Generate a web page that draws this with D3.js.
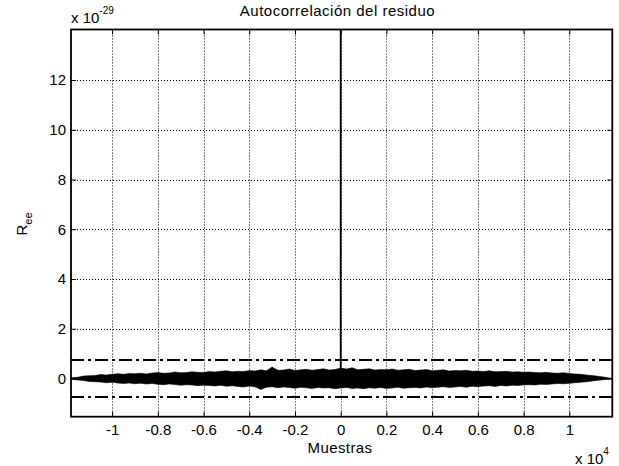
<!DOCTYPE html>
<html>
<head>
<meta charset="utf-8">
<script src="https://cdnjs.cloudflare.com/ajax/libs/d3/7.8.5/d3.min.js"></script>
<style>
  html, body { margin: 0; padding: 0; background: #fff; }
  text { font-family: "Liberation Sans", Arial, Helvetica, sans-serif; fill: #000; }
</style>
</head>
<body>
<svg id="chart" width="619" height="466"></svg>
<script>
// ---- data (units: 1e-29 for values, samples for lags) ----
const title = "Autocorrelación del residuo";
const xLabel = "Muestras";
const xTicks = [-10000, -8000, -6000, -4000, -2000, 0, 2000, 4000, 6000, 8000, 10000];
const xTickLabels = ["-1", "-0.8", "-0.6", "-0.4", "-0.2", "0", "0.2", "0.4", "0.6", "0.8", "1"];
const yTicks = [0, 2, 4, 6, 8, 10, 12];
const yTickLabels = ["0", "2", "4", "6", "8", "10", "12"];
const xDomain = [-11798, 11881];
const yDomain = [-1.535, 14.03];
const confBound = 0.745;            // dash-dot confidence lines at ±confBound
const peakLag = [-1, 0, 1];
const peakValue = [0.1, 14.2, 0.1];  // main autocorrelation peak (clipped at top)
// noise band envelope, read every 250 lags from -11750 to 11750
const bandLags = d3.range(-11750, 11751, 250);
const bandUpper = [
  0.03,0.05,0.10,0.11,0.12,0.16,0.14,0.17,0.19,0.17,
  0.20,0.19,0.21,0.18,0.22,0.24,0.21,0.22,0.26,0.23,
  0.24,0.27,0.25,0.24,0.28,0.26,0.29,0.31,0.27,0.29,
  0.28,0.32,0.30,0.35,0.31,0.46,0.33,0.34,0.38,0.32,
  0.35,0.37,0.33,0.36,0.39,0.34,0.36,0.42,0.38,0.43,
  0.35,0.37,0.39,0.34,0.36,0.35,0.38,0.33,0.35,0.37,
  0.32,0.34,0.36,0.31,0.33,0.35,0.30,0.32,0.31,0.33,
  0.29,0.30,0.28,0.31,0.27,0.28,0.29,0.26,0.27,0.25,
  0.26,0.24,0.23,0.25,0.22,0.21,0.23,0.20,0.18,0.17,
  0.14,0.12,0.09,0.06,0.02];
const bandLower = [
  -0.03,-0.06,-0.08,-0.12,-0.13,-0.14,-0.17,-0.15,-0.18,-0.20,
  -0.18,-0.21,-0.19,-0.22,-0.20,-0.23,-0.25,-0.22,-0.24,-0.27,
  -0.25,-0.26,-0.29,-0.27,-0.28,-0.30,-0.27,-0.31,-0.29,-0.32,
  -0.34,-0.30,-0.33,-0.44,-0.35,-0.33,-0.37,-0.34,-0.36,-0.39,
  -0.35,-0.37,-0.40,-0.36,-0.38,-0.37,-0.41,-0.38,-0.36,-0.40,
  -0.38,-0.41,-0.37,-0.39,-0.36,-0.40,-0.38,-0.35,-0.39,-0.37,
  -0.36,-0.38,-0.34,-0.37,-0.35,-0.33,-0.36,-0.34,-0.32,-0.35,
  -0.31,-0.33,-0.30,-0.29,-0.32,-0.28,-0.30,-0.27,-0.28,-0.26,
  -0.25,-0.26,-0.23,-0.24,-0.22,-0.20,-0.21,-0.19,-0.17,-0.15,
  -0.13,-0.10,-0.07,-0.05,-0.02];

// ---- layout ----
const L = 71, R = 612.3, T = 29.5, B = 416.7;
const FS = 15;
const svg = d3.select("#chart");
svg.append("rect").attr("width", 619).attr("height", 466).attr("fill", "#fff");

const x = d3.scaleLinear().domain(xDomain).range([L, R]);
const y = d3.scaleLinear().domain(yDomain).range([B, T]);

const defs = svg.append("defs");
defs.append("clipPath").attr("id", "clip")
  .append("rect").attr("x", L).attr("y", T).attr("width", R - L).attr("height", B - T);

// grid
const grid = svg.append("g");
xTicks.forEach(v => {
  const px = Math.round(x(v)) + 0.5;
  grid.append("line").attr("x1", px).attr("x2", px).attr("y1", T).attr("y2", B)
    .attr("stroke", "#000").attr("stroke-width", 1).attr("stroke-dasharray", "1,2");
});
yTicks.forEach(v => {
  const py = Math.round(y(v)) + 0.5;
  grid.append("line").attr("x1", L).attr("x2", R).attr("y1", py).attr("y2", py)
    .attr("stroke", "#000").attr("stroke-width", 1).attr("stroke-dasharray", "1,2");
});

const plot = svg.append("g").attr("clip-path", "url(#clip)");

// noise band
const bandData = [{lag: xDomain[0], u: 0.01, l: -0.01}]
  .concat(bandLags.map((g, i) => ({lag: g, u: bandUpper[i], l: bandLower[i]})))
  .concat([{lag: xDomain[1], u: 0.01, l: -0.01}]);
const area = d3.area().x(d => x(d.lag)).y0(d => y(d.l)).y1(d => y(d.u));
plot.append("path").datum(bandData).attr("d", area)
  .attr("fill", "#000").attr("stroke", "#000").attr("stroke-width", 0.6);

// peak
const peakData = peakLag.map((g, i) => ({lag: g, v: peakValue[i]}));
plot.append("path").datum(peakData)
  .attr("d", d3.line().x(d => x(d.lag)).y(d => y(d.v)))
  .attr("fill", "none").attr("stroke", "#000").attr("stroke-width", 1.8);

// confidence dash-dot lines
[confBound, -confBound].forEach(v => {
  plot.append("line").attr("x1", L).attr("x2", R).attr("y1", y(v)).attr("y2", y(v))
    .attr("stroke", "#000").attr("stroke-width", 2).attr("stroke-dasharray", "13,4,3,4");
});

// axes (MATLAB style, ticks inside)
const axB = d3.axisBottom(x).tickValues(xTicks).tickFormat((d, i) => xTickLabels[i]).tickSizeInner(-5).tickSizeOuter(0).tickPadding(7.5);
const axT = d3.axisTop(x).tickValues(xTicks).tickFormat("").tickSizeInner(-5).tickSizeOuter(0);
const axL = d3.axisLeft(y).tickValues(yTicks).tickFormat((d, i) => yTickLabels[i]).tickSizeInner(-5).tickSizeOuter(0).tickPadding(5);
const axR = d3.axisRight(y).tickValues(yTicks).tickFormat("").tickSizeInner(-5).tickSizeOuter(0);

function style(g) {
  g.select(".domain").remove();
  g.selectAll("line").attr("stroke", "#000").attr("stroke-width", 1);
  g.selectAll("text").attr("font-size", FS + "px").attr("font-family", "Liberation Sans, Arial, sans-serif").attr("fill", "#000");
}
svg.append("g").attr("transform", `translate(0,${B})`).call(axB).call(style);
svg.append("g").attr("transform", `translate(0,${T})`).call(axT).call(style);
svg.append("g").attr("transform", `translate(${L},0)`).call(axL).call(style);
svg.append("g").attr("transform", `translate(${R},0)`).call(axR).call(style);

// box
svg.append("rect").attr("x", L).attr("y", T).attr("width", R - L).attr("height", B - T)
  .attr("fill", "none").attr("stroke", "#000").attr("stroke-width", 1.8);

// title
svg.append("text").attr("x", 337.5).attr("y", 16).attr("text-anchor", "middle")
  .attr("font-size", FS + "px").attr("letter-spacing", "0.5px").text(title);

// x label
svg.append("text").attr("x", 340).attr("y", 453).attr("text-anchor", "middle")
  .attr("font-size", FS + "px").attr("letter-spacing", "0.4px").text(xLabel);

// y label R_ee
const yl = svg.append("text").attr("transform", "translate(27,224) rotate(-90)")
  .attr("text-anchor", "middle").attr("font-size", FS + "px");
yl.append("tspan").text("R");
yl.append("tspan").attr("font-size", "11px").attr("dy", 5).text("ee");

// exponent labels
const e1 = svg.append("text").attr("x", 71).attr("y", 23).attr("font-size", FS + "px");
e1.append("tspan").text("x 10");
e1.append("tspan").attr("font-size", "10px").attr("dy", -9).text("-29");

const e2 = svg.append("text").attr("x", 575).attr("y", 464).attr("font-size", FS + "px");
e2.append("tspan").text("x 10");
e2.append("tspan").attr("font-size", "10px").attr("dy", -9).text("4");
</script>
</body>
</html>
